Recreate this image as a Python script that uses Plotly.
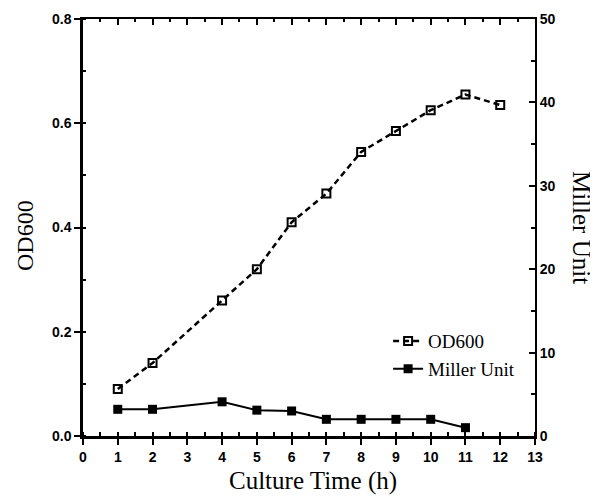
import plotly.graph_objects as go

time_h = [1, 2, 4, 5, 6, 7, 8, 9, 10, 11, 12]
od600 = [0.09, 0.14, 0.26, 0.32, 0.41, 0.465, 0.545, 0.585, 0.625, 0.655, 0.635]
miller_time = [1, 2, 4, 5, 6, 7, 8, 9, 10, 11]
miller = [3.2, 3.2, 4.1, 3.1, 3.0, 2.0, 2.0, 2.0, 2.0, 1.0]

x_ticks = list(range(0, 14))
yl_ticks = [0.0, 0.2, 0.4, 0.6, 0.8]
yr_ticks = [0, 10, 20, 30, 40, 50]

SERIF = "Liberation Serif, Times New Roman, serif"
SANS = "Liberation Sans, Arial, sans-serif"

fig = go.Figure()
fig.add_trace(go.Scatter(
    x=time_h, y=od600, name="OD600", mode="lines+markers",
    line=dict(color="black", width=2.5, dash="6px,4px"),
    marker=dict(symbol="square-open", size=8, color="black", line=dict(width=2)),
    yaxis="y"))
fig.add_trace(go.Scatter(
    x=miller_time, y=miller, name="Miller Unit", mode="lines+markers",
    line=dict(color="black", width=2),
    marker=dict(symbol="square", size=9, color="black"),
    yaxis="y2"))
# invisible trace so the top axis is drawn
fig.add_trace(go.Scatter(x=[0], y=[0], xaxis="x2", yaxis="y", mode="markers",
                         marker=dict(opacity=0), showlegend=False, hoverinfo="skip"))

tickfont = dict(family=SANS, size=14, color="black", weight="bold")
fig.update_layout(
    width=590, height=490,
    margin=dict(l=75, r=63, t=11, b=62, autoexpand=False),
    plot_bgcolor="white", paper_bgcolor="white",
    showlegend=True,
    legend=dict(x=0.675, y=0.273, xanchor="left", yanchor="top",
                font=dict(family=SERIF, size=19, color="black"),
                bgcolor="rgba(0,0,0,0)", tracegroupgap=0, itemwidth=30),
    xaxis=dict(range=[0, 13], tickvals=x_ticks, ticktext=[str(v) for v in x_ticks],
               ticks="outside", ticklen=6, tickwidth=2, tickcolor="black",
               showline=True, linecolor="black", linewidth=2.5, showgrid=False, zeroline=False,
               tickfont=tickfont, automargin=False,
               minor=dict(dtick=0.5, ticks="inside", ticklen=4, tickwidth=1.5, tickcolor="black")),
    xaxis2=dict(range=[0, 13], overlaying="x", side="top", tickvals=x_ticks,
                showticklabels=False, ticks="inside", ticklen=6, tickwidth=2, tickcolor="black",
                showline=True, linecolor="black", linewidth=2, showgrid=False, zeroline=False,
                automargin=False,
                minor=dict(dtick=0.5, ticks="inside", ticklen=3, tickwidth=1.5, tickcolor="black")),
    yaxis=dict(range=[0, 0.8], tickvals=yl_ticks, ticktext=["0.0", "0.2", "0.4", "0.6", "0.8"],
               ticks="outside", ticklen=6, tickwidth=2, tickcolor="black",
               showline=True, linecolor="black", linewidth=2.5, showgrid=False, zeroline=False,
               tickfont=tickfont, automargin=False,
               minor=dict(dtick=0.1, ticks="inside", ticklen=3, tickwidth=1.5, tickcolor="black")),
    yaxis2=dict(range=[0, 50], tickvals=yr_ticks, overlaying="y", side="right",
                ticks="inside", ticklen=6, tickwidth=2, tickcolor="black",
                showline=True, linecolor="black", linewidth=2, showgrid=False, zeroline=False,
                tickfont=tickfont, automargin=False,
                minor=dict(dtick=5, ticks="inside", ticklen=4, tickwidth=1.5, tickcolor="black")),
    annotations=[
        dict(text="Culture Time (h)", xref="paper", yref="paper", x=0.509, y=-0.108,
             xanchor="center", yanchor="middle", showarrow=False,
             font=dict(family=SERIF, size=25, color="black")),
        dict(text="OD600", xref="paper", yref="paper", x=-0.128, y=0.48,
             xanchor="center", yanchor="middle", textangle=-90, showarrow=False,
             font=dict(family=SERIF, size=24, color="black")),
        dict(text="Miller Unit", xref="paper", yref="paper", x=1.103, y=0.5,
             xanchor="center", yanchor="middle", textangle=90, showarrow=False,
             font=dict(family=SERIF, size=25, color="black")),
    ],
)

fig.write_html("out.html")
